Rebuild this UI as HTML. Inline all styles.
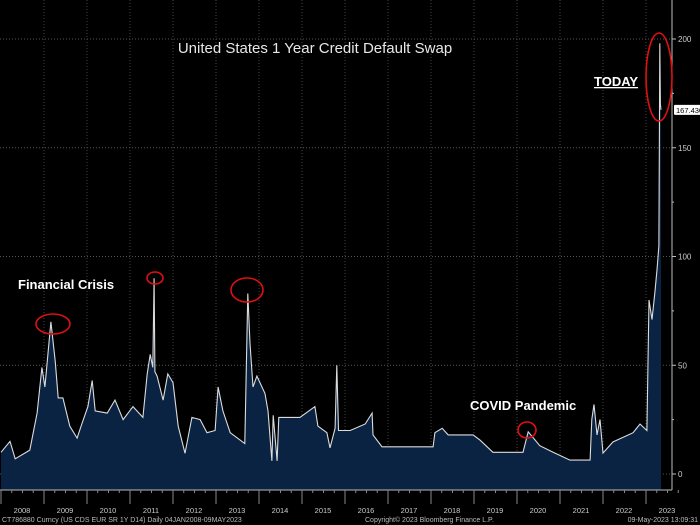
<!DOCTYPE html>
<html><head><meta charset="utf-8">
<style>
html,body{margin:0;padding:0;background:#000;}
svg{display:block;font-family:"Liberation Sans",sans-serif;}
</style></head>
<body>
<svg id="chart" width="700" height="525" viewBox="0 0 700 525" xmlns="http://www.w3.org/2000/svg">
<rect x="0" y="0" width="700" height="525" fill="#000"/>
<g id="grid"></g>
<g id="series"></g>
<g id="axes"></g>
<text x="315" y="53" fill="#e8e8e8" font-size="15" text-anchor="middle">United States 1 Year Credit Default Swap</text>
<text x="18" y="289" fill="#fff" font-size="13" font-weight="bold">Financial Crisis</text>
<text x="594" y="86" fill="#fff" font-size="13" font-weight="bold" text-decoration="underline">TODAY</text>
<text x="470" y="410" fill="#fff" font-size="13" font-weight="bold">COVID Pandemic</text>
<g fill="none" stroke="#e01010" stroke-width="1.6">
<ellipse cx="53" cy="324" rx="17" ry="10"/>
<ellipse cx="155" cy="278" rx="8" ry="6"/>
<ellipse cx="247" cy="290" rx="16" ry="12"/>
<ellipse cx="527" cy="430" rx="9" ry="8"/>
<ellipse cx="659" cy="77" rx="13" ry="44"/>
</g>
<text x="2" y="522" fill="#bbb" font-size="7">CT786880 Curncy (US CDS EUR SR 1Y D14)  Daily 04JAN2008-09MAY2023</text>
<text x="365" y="522" fill="#bbb" font-size="7">Copyright© 2023 Bloomberg Finance L.P.</text>
<text x="698" y="522" fill="#bbb" font-size="7" text-anchor="end">09-May-2023 13:09:31</text>
</svg>
<script>
const years = [2008.00,2008.21,2008.33,2008.67,2008.84,2008.95,2009.02,2009.16,2009.26,2009.33,2009.44,2009.60,2009.77,2009.88,2010.02,2010.12,2010.19,2010.47,2010.65,2010.84,2011.07,2011.30,2011.40,2011.47,2011.53,2011.56,2011.58,2011.63,2011.77,2011.88,2012.00,2012.12,2012.28,2012.44,2012.63,2012.79,2012.98,2013.05,2013.16,2013.33,2013.67,2013.74,2013.79,2013.86,2013.95,2014.14,2014.21,2014.30,2014.33,2014.42,2014.46,2014.56,2014.95,2015.30,2015.37,2015.58,2015.65,2015.77,2015.81,2015.85,2016.12,2016.47,2016.63,2016.65,2016.86,2017.44,2018.05,2018.09,2018.26,2018.40,2018.98,2019.14,2019.44,2020.14,2020.26,2020.53,2020.84,2021.23,2021.70,2021.74,2021.79,2021.86,2021.93,2022.00,2022.23,2022.70,2022.86,2023.02,2023.07,2023.14,2023.21,2023.26,2023.30,2023.32,2023.335,2023.35];
const values = [10,15,7,11,28,49,40,70,52,35,35,22,16.5,23,31,43,29,28,34,25,31,26,46,55,49,90,47,45,34,46,42,22,9.5,26,25,19,20,40,29,19,14,83,60,40,45,37,29,6,27,6,26,26,26,31,22,19,12,21,50,20,20,23,28,18,12.5,12.5,12.5,19,21,18,18,15.6,10,10,19.4,13,10,6.4,6.4,25,32,18,25,9.6,14.7,19,23,20,80,71,84,95,105,198,170,167.43];
const yTicks = [0,50,100,150,200];
const xLabels = ["2008","2009","2010","2011","2012","2013","2014","2015","2016","2017","2018","2019","2020","2021","2022","2023"];

const NS="http://www.w3.org/2000/svg";
const X0=1, PXY=43, Y0=474, PXV=2.175, AXX=672, BOT=490;
const xs = y => X0 + (y-2008)*PXY;
const ys = v => Y0 - v*PXV;
function mk(tag, attrs, parent){const e=document.createElementNS(NS,tag);for(const k in attrs)e.setAttribute(k,attrs[k]);parent.appendChild(e);return e;}
const grid=document.getElementById('grid'), series=document.getElementById('series'), axes=document.getElementById('axes');

yTicks.forEach(v=>{
  const l=mk('line',{x1:0,x2:AXX,y1:ys(v),y2:ys(v),stroke:'#555','stroke-dasharray':'1,2','stroke-width':1},grid);
  
  
});
for(let i=1;i<xLabels.length;i++){
  const l=mk('line',{x1:xs(2008+i),x2:xs(2008+i),y1:0,y2:BOT,stroke:'#444','stroke-dasharray':'1,2','stroke-width':1},grid);
  
  
}

let d='M'+xs(years[0])+','+BOT;
years.forEach((y,i)=>{d+=' L'+xs(y).toFixed(1)+','+ys(values[i]).toFixed(1);});
d+=' L'+xs(years[years.length-1]).toFixed(1)+','+BOT+' Z';
const area=mk('path',{d:d,fill:'#0a2342',stroke:'none'},series);


let ld='';
years.forEach((y,i)=>{ld+=(i?' L':'M')+xs(y).toFixed(1)+','+ys(values[i]).toFixed(1);});
const line=mk('path',{d:ld,fill:'none',stroke:'#dcdcdc','stroke-width':1.1},series);



const ax=mk('line',{x1:AXX,x2:AXX,y1:0,y2:BOT,stroke:'#bbb','stroke-width':1},axes);


for(let v=0;v<=200;v+=25){
  const t=mk('line',{x1:AXX,x2:AXX+(v%50?2:4),y1:ys(v),y2:ys(v),stroke:'#bbb'},axes);
  
  
}
yTicks.forEach(v=>{
  const t=mk('text',{x:AXX+6,y:ys(v)+3,fill:'#ccc','font-size':8},axes);
  t.textContent=String(v);
  
  
});
const lv=values[values.length-1];
const lb=mk('rect',{x:AXX+2,y:ys(lv)-5,width:28,height:10,fill:'#fff',rx:1},axes);


const lt=mk('text',{x:AXX+4,y:ys(lv)+3,fill:'#000','font-size':7.5},axes);
lt.textContent=lv.toFixed(3);



const bx=mk('line',{x1:0,x2:AXX,y1:BOT,y2:BOT,stroke:'#bbb','stroke-width':1},axes);


xLabels.forEach((lab,i)=>{
  const t=mk('line',{x1:xs(2008+i),x2:xs(2008+i),y1:BOT,y2:BOT+14,stroke:'#888'},axes);
  
  
  for(let q=1;q<4;q++){
    const m=mk('line',{x1:xs(2008+i+q/4),x2:xs(2008+i+q/4),y1:BOT,y2:BOT+3,stroke:'#888'},axes);
    
    
  }
  const tx=mk('text',{x:xs(2008+i)+21,y:BOT+23,fill:'#ccc','font-size':7.5,'text-anchor':'middle'},axes);
  tx.textContent=lab;
  
  
});
</script>
</body></html>
